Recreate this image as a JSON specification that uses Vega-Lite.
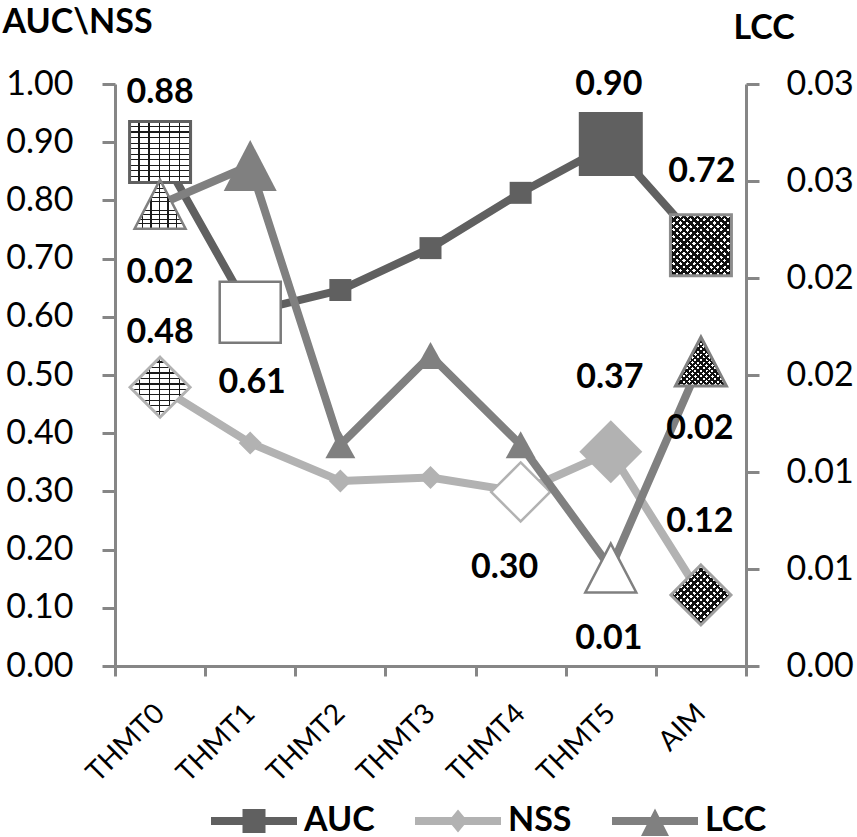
{
  "$schema": "https://vega.github.io/schema/vega-lite/v6.json",
  "width": 631,
  "height": 582,
  "autosize": {"type": "none"},
  "padding": {"left": 115, "top": 84, "right": 111, "bottom": 171},
  "background": "#ffffff",
  "data": {
    "values": [
      {"model": "THMT0", "metric": "AUC", "value": 0.883},
      {"model": "THMT1", "metric": "AUC", "value": 0.608},
      {"model": "THMT2", "metric": "AUC", "value": 0.646},
      {"model": "THMT3", "metric": "AUC", "value": 0.718},
      {"model": "THMT4", "metric": "AUC", "value": 0.813},
      {"model": "THMT5", "metric": "AUC", "value": 0.897},
      {"model": "AIM", "metric": "AUC", "value": 0.723},
      {"model": "THMT0", "metric": "NSS", "value": 0.479},
      {"model": "THMT1", "metric": "NSS", "value": 0.383},
      {"model": "THMT2", "metric": "NSS", "value": 0.318},
      {"model": "THMT3", "metric": "NSS", "value": 0.324},
      {"model": "THMT4", "metric": "NSS", "value": 0.299},
      {"model": "THMT5", "metric": "NSS", "value": 0.368},
      {"model": "AIM", "metric": "NSS", "value": 0.122},
      {"model": "THMT0", "metric": "LCC", "value": 0.0238},
      {"model": "THMT1", "metric": "LCC", "value": 0.0258},
      {"model": "THMT2", "metric": "LCC", "value": 0.0114},
      {"model": "THMT3", "metric": "LCC", "value": 0.016},
      {"model": "THMT4", "metric": "LCC", "value": 0.0114},
      {"model": "THMT5", "metric": "LCC", "value": 0.00505},
      {"model": "AIM", "metric": "LCC", "value": 0.0157}
    ]
  },
  "encoding": {
    "x": {
      "field": "model",
      "type": "nominal",
      "bandPosition": 0.5,
      "scale": {"type": "band", "domain": ["THMT0", "THMT1", "THMT2", "THMT3", "THMT4", "THMT5", "AIM"], "paddingInner": 0, "paddingOuter": 0},
      "axis": {
        "title": null,
        "tickBand": "extent",
        "labelAngle": -45,
        "labelAlign": "right",
        "labelBaseline": "middle",
        "labelFont": "Lato",
        "labelFontSize": 28,
        "labelColor": "#000000",
        "labelPadding": 33,
        "tickSize": 10,
        "tickWidth": 3,
        "tickColor": "#868686",
        "domainColor": "#868686",
        "domainWidth": 3,
        "grid": false
      }
    }
  },
  "layer": [
    {
      "encoding": {
        "y": {
          "field": "value",
          "type": "quantitative",
          "scale": {"domain": [0, 1], "nice": false},
          "axis": {
            "orient": "left",
            "values": [0, 0.1, 0.2, 0.3, 0.4, 0.5, 0.6, 0.7, 0.8, 0.9, 1],
            "format": ".2f",
            "title": "AUC\\NSS",
            "titleAngle": 0,
            "titleAlign": "left",
            "titleBaseline": "alphabetic",
            "titleX": -113,
            "titleY": -52,
            "titleFont": "Lato",
            "titleFontSize": 34,
            "titleFontWeight": "bold",
            "titleColor": "#000000",
            "labelFont": "Lato",
            "labelFontSize": 34,
            "labelColor": "#000000",
            "labelPadding": 29,
            "tickSize": 13,
            "tickWidth": 3,
            "tickColor": "#868686",
            "domainColor": "#868686",
            "domainWidth": 3,
            "grid": false
          }
        }
      },
      "layer": [
        {
          "transform": [{"filter": "datum.metric==='AUC'"}],
          "mark": {"type": "line", "color": "#606060", "strokeWidth": 8, "strokeJoin": "round"}
        },
        {
          "transform": [{"filter": "datum.metric==='AUC' && (datum.model==='THMT2' || datum.model==='THMT3' || datum.model==='THMT4')"}],
          "mark": {"type": "point", "shape": "square", "filled": true, "size": 484, "color": "#606060", "opacity": 1}
        },
        {
          "transform": [{"filter": "datum.metric==='AUC' && datum.model==='THMT1'"}],
          "mark": {"type": "point", "shape": "square", "filled": true, "size": 3721, "fill": "#ffffff", "opacity": 1, "stroke": "#7a7a7a", "strokeWidth": 2.5}
        },
        {
          "transform": [{"filter": "datum.metric==='AUC' && datum.model==='THMT5'"}],
          "mark": {"type": "point", "shape": "square", "filled": true, "size": 4096, "color": "#606060", "opacity": 1}
        },
        {
          "transform": [{"filter": "datum.metric==='NSS'"}],
          "mark": {"type": "line", "color": "#b2b2b2", "strokeWidth": 8, "strokeJoin": "round"}
        },
        {
          "transform": [{"filter": "datum.metric==='NSS' && (datum.model==='THMT1' || datum.model==='THMT2' || datum.model==='THMT3')"}],
          "mark": {"type": "point", "shape": "M0,-1L1,0L0,1L-1,0Z", "filled": true, "size": 529, "color": "#b2b2b2", "opacity": 1}
        },
        {
          "transform": [{"filter": "datum.metric==='NSS' && datum.model==='THMT4'"}],
          "mark": {"type": "point", "shape": "M0,-1L1,0L0,1L-1,0Z", "filled": true, "size": 3481, "fill": "#ffffff", "opacity": 1, "stroke": "#b2b2b2", "strokeWidth": 2.5}
        },
        {
          "transform": [{"filter": "datum.metric==='NSS' && datum.model==='THMT5'"}],
          "mark": {"type": "point", "shape": "M0,-1L1,0L0,1L-1,0Z", "filled": true, "size": 3969, "color": "#b2b2b2", "opacity": 1}
        },
        {
          "transform": [{"filter": "datum.metric!=='LCC' && datum.model==='THMT0'"}],
          "mark": {
            "type": "point", "filled": true, "opacity": 1, "strokeWidth": 0,
            "fill": {
              "gradient": "linear", "x1": 0, "y1": 0, "x2": 0, "y2": 1,
              "stops": [
                {"offset": 0, "color": "#ffffff"}, {"offset": 0.071, "color": "#ffffff"}, {"offset": 0.071, "color": "#1a1a1a"}, {"offset": 0.091, "color": "#1a1a1a"},
                {"offset": 0.091, "color": "#ffffff"}, {"offset": 0.162, "color": "#ffffff"}, {"offset": 0.162, "color": "#1a1a1a"}, {"offset": 0.182, "color": "#1a1a1a"},
                {"offset": 0.182, "color": "#ffffff"}, {"offset": 0.253, "color": "#ffffff"}, {"offset": 0.253, "color": "#1a1a1a"}, {"offset": 0.273, "color": "#1a1a1a"},
                {"offset": 0.273, "color": "#ffffff"}, {"offset": 0.344, "color": "#ffffff"}, {"offset": 0.344, "color": "#1a1a1a"}, {"offset": 0.364, "color": "#1a1a1a"},
                {"offset": 0.364, "color": "#ffffff"}, {"offset": 0.435, "color": "#ffffff"}, {"offset": 0.435, "color": "#1a1a1a"}, {"offset": 0.455, "color": "#1a1a1a"},
                {"offset": 0.455, "color": "#ffffff"}, {"offset": 0.526, "color": "#ffffff"}, {"offset": 0.526, "color": "#1a1a1a"}, {"offset": 0.545, "color": "#1a1a1a"},
                {"offset": 0.545, "color": "#ffffff"}, {"offset": 0.616, "color": "#ffffff"}, {"offset": 0.616, "color": "#1a1a1a"}, {"offset": 0.636, "color": "#1a1a1a"},
                {"offset": 0.636, "color": "#ffffff"}, {"offset": 0.707, "color": "#ffffff"}, {"offset": 0.707, "color": "#1a1a1a"}, {"offset": 0.727, "color": "#1a1a1a"},
                {"offset": 0.727, "color": "#ffffff"}, {"offset": 0.798, "color": "#ffffff"}, {"offset": 0.798, "color": "#1a1a1a"}, {"offset": 0.818, "color": "#1a1a1a"},
                {"offset": 0.818, "color": "#ffffff"}, {"offset": 0.889, "color": "#ffffff"}, {"offset": 0.889, "color": "#1a1a1a"}, {"offset": 0.909, "color": "#1a1a1a"},
                {"offset": 0.909, "color": "#ffffff"}, {"offset": 0.98, "color": "#ffffff"}, {"offset": 0.98, "color": "#1a1a1a"}, {"offset": 1, "color": "#1a1a1a"}
              ]
            }
          },
          "encoding": {
            "shape": {"condition": {"test": "datum.metric==='AUC'", "value": "square"}, "value": "M0,-1L1,0L0,1L-1,0Z"},
            "size": {"condition": {"test": "datum.metric==='AUC'", "value": 3721}, "value": 3600}
          }
        },
        {
          "transform": [{"filter": "datum.metric!=='LCC' && datum.model==='THMT0'"}],
          "mark": {
            "type": "point", "filled": true, "opacity": 1, "strokeWidth": 3,
            "fill": {
              "gradient": "linear", "x1": 0, "y1": 0, "x2": 1, "y2": 0,
              "stops": [
                {"offset": 0, "color": "rgba(0,0,0,0)"}, {"offset": 0.142, "color": "rgba(0,0,0,0)"}, {"offset": 0.142, "color": "#1a1a1a"}, {"offset": 0.167, "color": "#1a1a1a"},
                {"offset": 0.167, "color": "rgba(0,0,0,0)"}, {"offset": 0.308, "color": "rgba(0,0,0,0)"}, {"offset": 0.308, "color": "#1a1a1a"}, {"offset": 0.333, "color": "#1a1a1a"},
                {"offset": 0.333, "color": "rgba(0,0,0,0)"}, {"offset": 0.475, "color": "rgba(0,0,0,0)"}, {"offset": 0.475, "color": "#1a1a1a"}, {"offset": 0.5, "color": "#1a1a1a"},
                {"offset": 0.5, "color": "rgba(0,0,0,0)"}, {"offset": 0.642, "color": "rgba(0,0,0,0)"}, {"offset": 0.642, "color": "#1a1a1a"}, {"offset": 0.667, "color": "#1a1a1a"},
                {"offset": 0.667, "color": "rgba(0,0,0,0)"}, {"offset": 0.808, "color": "rgba(0,0,0,0)"}, {"offset": 0.808, "color": "#1a1a1a"}, {"offset": 0.833, "color": "#1a1a1a"},
                {"offset": 0.833, "color": "rgba(0,0,0,0)"}, {"offset": 0.975, "color": "rgba(0,0,0,0)"}, {"offset": 0.975, "color": "#1a1a1a"}, {"offset": 1, "color": "#1a1a1a"}
              ]
            }
          },
          "encoding": {
            "shape": {"condition": {"test": "datum.metric==='AUC'", "value": "square"}, "value": "M0,-1L1,0L0,1L-1,0Z"},
            "size": {"condition": {"test": "datum.metric==='AUC'", "value": 3721}, "value": 3600},
            "stroke": {"condition": {"test": "datum.metric==='AUC'", "value": "#606060"}, "value": "#b2b2b2"}
          }
        },
        {
          "transform": [{"filter": "datum.metric!=='LCC' && datum.model==='AIM'"}],
          "mark": {
            "type": "point", "filled": true, "opacity": 1, "strokeWidth": 0,
            "fill": {
              "gradient": "linear", "x1": 0, "y1": 0, "x2": 1, "y2": 1,
              "stops": [
                {"offset": 0, "color": "#111111"}, {"offset": 0.027, "color": "#111111"}, {"offset": 0.027, "color": "#ffffff"}, {"offset": 0.056, "color": "#ffffff"},
                {"offset": 0.056, "color": "#111111"}, {"offset": 0.082, "color": "#111111"}, {"offset": 0.082, "color": "#ffffff"}, {"offset": 0.111, "color": "#ffffff"},
                {"offset": 0.111, "color": "#111111"}, {"offset": 0.138, "color": "#111111"}, {"offset": 0.138, "color": "#ffffff"}, {"offset": 0.167, "color": "#ffffff"},
                {"offset": 0.167, "color": "#111111"}, {"offset": 0.193, "color": "#111111"}, {"offset": 0.193, "color": "#ffffff"}, {"offset": 0.222, "color": "#ffffff"},
                {"offset": 0.222, "color": "#111111"}, {"offset": 0.249, "color": "#111111"}, {"offset": 0.249, "color": "#ffffff"}, {"offset": 0.278, "color": "#ffffff"},
                {"offset": 0.278, "color": "#111111"}, {"offset": 0.304, "color": "#111111"}, {"offset": 0.304, "color": "#ffffff"}, {"offset": 0.333, "color": "#ffffff"},
                {"offset": 0.333, "color": "#111111"}, {"offset": 0.36, "color": "#111111"}, {"offset": 0.36, "color": "#ffffff"}, {"offset": 0.389, "color": "#ffffff"},
                {"offset": 0.389, "color": "#111111"}, {"offset": 0.416, "color": "#111111"}, {"offset": 0.416, "color": "#ffffff"}, {"offset": 0.444, "color": "#ffffff"},
                {"offset": 0.444, "color": "#111111"}, {"offset": 0.471, "color": "#111111"}, {"offset": 0.471, "color": "#ffffff"}, {"offset": 0.5, "color": "#ffffff"},
                {"offset": 0.5, "color": "#111111"}, {"offset": 0.527, "color": "#111111"}, {"offset": 0.527, "color": "#ffffff"}, {"offset": 0.556, "color": "#ffffff"},
                {"offset": 0.556, "color": "#111111"}, {"offset": 0.582, "color": "#111111"}, {"offset": 0.582, "color": "#ffffff"}, {"offset": 0.611, "color": "#ffffff"},
                {"offset": 0.611, "color": "#111111"}, {"offset": 0.638, "color": "#111111"}, {"offset": 0.638, "color": "#ffffff"}, {"offset": 0.667, "color": "#ffffff"},
                {"offset": 0.667, "color": "#111111"}, {"offset": 0.693, "color": "#111111"}, {"offset": 0.693, "color": "#ffffff"}, {"offset": 0.722, "color": "#ffffff"},
                {"offset": 0.722, "color": "#111111"}, {"offset": 0.749, "color": "#111111"}, {"offset": 0.749, "color": "#ffffff"}, {"offset": 0.778, "color": "#ffffff"},
                {"offset": 0.778, "color": "#111111"}, {"offset": 0.804, "color": "#111111"}, {"offset": 0.804, "color": "#ffffff"}, {"offset": 0.833, "color": "#ffffff"},
                {"offset": 0.833, "color": "#111111"}, {"offset": 0.86, "color": "#111111"}, {"offset": 0.86, "color": "#ffffff"}, {"offset": 0.889, "color": "#ffffff"},
                {"offset": 0.889, "color": "#111111"}, {"offset": 0.916, "color": "#111111"}, {"offset": 0.916, "color": "#ffffff"}, {"offset": 0.944, "color": "#ffffff"},
                {"offset": 0.944, "color": "#111111"}, {"offset": 0.971, "color": "#111111"}, {"offset": 0.971, "color": "#ffffff"}, {"offset": 1, "color": "#ffffff"}
              ]
            }
          },
          "encoding": {
            "shape": {"condition": {"test": "datum.metric==='AUC'", "value": "square"}, "value": "M0,-1L1,0L0,1L-1,0Z"},
            "size": {"condition": {"test": "datum.metric==='AUC'", "value": 3721}, "value": 3600}
          }
        },
        {
          "transform": [{"filter": "datum.metric!=='LCC' && datum.model==='AIM'"}],
          "mark": {
            "type": "point", "filled": true, "opacity": 1, "strokeWidth": 3,
            "fill": {
              "gradient": "linear", "x1": 1, "y1": 0, "x2": 0, "y2": 1,
              "stops": [
                {"offset": 0, "color": "#111111"}, {"offset": 0.027, "color": "#111111"}, {"offset": 0.027, "color": "rgba(0,0,0,0)"}, {"offset": 0.056, "color": "rgba(0,0,0,0)"},
                {"offset": 0.056, "color": "#111111"}, {"offset": 0.082, "color": "#111111"}, {"offset": 0.082, "color": "rgba(0,0,0,0)"}, {"offset": 0.111, "color": "rgba(0,0,0,0)"},
                {"offset": 0.111, "color": "#111111"}, {"offset": 0.138, "color": "#111111"}, {"offset": 0.138, "color": "rgba(0,0,0,0)"}, {"offset": 0.167, "color": "rgba(0,0,0,0)"},
                {"offset": 0.167, "color": "#111111"}, {"offset": 0.193, "color": "#111111"}, {"offset": 0.193, "color": "rgba(0,0,0,0)"}, {"offset": 0.222, "color": "rgba(0,0,0,0)"},
                {"offset": 0.222, "color": "#111111"}, {"offset": 0.249, "color": "#111111"}, {"offset": 0.249, "color": "rgba(0,0,0,0)"}, {"offset": 0.278, "color": "rgba(0,0,0,0)"},
                {"offset": 0.278, "color": "#111111"}, {"offset": 0.304, "color": "#111111"}, {"offset": 0.304, "color": "rgba(0,0,0,0)"}, {"offset": 0.333, "color": "rgba(0,0,0,0)"},
                {"offset": 0.333, "color": "#111111"}, {"offset": 0.36, "color": "#111111"}, {"offset": 0.36, "color": "rgba(0,0,0,0)"}, {"offset": 0.389, "color": "rgba(0,0,0,0)"},
                {"offset": 0.389, "color": "#111111"}, {"offset": 0.416, "color": "#111111"}, {"offset": 0.416, "color": "rgba(0,0,0,0)"}, {"offset": 0.444, "color": "rgba(0,0,0,0)"},
                {"offset": 0.444, "color": "#111111"}, {"offset": 0.471, "color": "#111111"}, {"offset": 0.471, "color": "rgba(0,0,0,0)"}, {"offset": 0.5, "color": "rgba(0,0,0,0)"},
                {"offset": 0.5, "color": "#111111"}, {"offset": 0.527, "color": "#111111"}, {"offset": 0.527, "color": "rgba(0,0,0,0)"}, {"offset": 0.556, "color": "rgba(0,0,0,0)"},
                {"offset": 0.556, "color": "#111111"}, {"offset": 0.582, "color": "#111111"}, {"offset": 0.582, "color": "rgba(0,0,0,0)"}, {"offset": 0.611, "color": "rgba(0,0,0,0)"},
                {"offset": 0.611, "color": "#111111"}, {"offset": 0.638, "color": "#111111"}, {"offset": 0.638, "color": "rgba(0,0,0,0)"}, {"offset": 0.667, "color": "rgba(0,0,0,0)"},
                {"offset": 0.667, "color": "#111111"}, {"offset": 0.693, "color": "#111111"}, {"offset": 0.693, "color": "rgba(0,0,0,0)"}, {"offset": 0.722, "color": "rgba(0,0,0,0)"},
                {"offset": 0.722, "color": "#111111"}, {"offset": 0.749, "color": "#111111"}, {"offset": 0.749, "color": "rgba(0,0,0,0)"}, {"offset": 0.778, "color": "rgba(0,0,0,0)"},
                {"offset": 0.778, "color": "#111111"}, {"offset": 0.804, "color": "#111111"}, {"offset": 0.804, "color": "rgba(0,0,0,0)"}, {"offset": 0.833, "color": "rgba(0,0,0,0)"},
                {"offset": 0.833, "color": "#111111"}, {"offset": 0.86, "color": "#111111"}, {"offset": 0.86, "color": "rgba(0,0,0,0)"}, {"offset": 0.889, "color": "rgba(0,0,0,0)"},
                {"offset": 0.889, "color": "#111111"}, {"offset": 0.916, "color": "#111111"}, {"offset": 0.916, "color": "rgba(0,0,0,0)"}, {"offset": 0.944, "color": "rgba(0,0,0,0)"},
                {"offset": 0.944, "color": "#111111"}, {"offset": 0.971, "color": "#111111"}, {"offset": 0.971, "color": "rgba(0,0,0,0)"}, {"offset": 1, "color": "rgba(0,0,0,0)"}
              ]
            }
          },
          "encoding": {
            "shape": {"condition": {"test": "datum.metric==='AUC'", "value": "square"}, "value": "M0,-1L1,0L0,1L-1,0Z"},
            "size": {"condition": {"test": "datum.metric==='AUC'", "value": 3721}, "value": 3600},
            "stroke": {"condition": {"test": "datum.metric==='AUC'", "value": "#8c8c8c"}, "value": "#a0a0a0"}
          }
        },
        {
          "mark": {"type": "point", "filled": true, "size": 0, "opacity": 1},
          "encoding": {
            "color": {
              "field": "metric",
              "type": "nominal",
              "scale": {"domain": ["AUC", "NSS", "LCC"], "range": ["#606060", "#b2b2b2", "#808080"]},
              "legend": {"title": null, "orient": "none", "legendX": 122, "legendY": 720, "direction": "horizontal", "padding": 0, "symbolSize": 400, "symbolStrokeWidth": 0, "symbolOpacity": 1, "labelFont": "Lato", "labelFontSize": 34, "labelFontWeight": "bold", "labelColor": "#000000", "labelOffset": 33, "columnPadding": 40}
            },
            "shape": {
              "field": "metric",
              "type": "nominal",
              "scale": {"domain": ["AUC", "NSS", "LCC"], "range": ["M-4.3,-0.4H4.3V0.4H-4.3Z M-1.15,-1.2H1.15V1.2H-1.15Z", "M-4.3,-0.4H4.3V0.4H-4.3Z M0,-1.15L0.95,0L0,1.15L-0.95,0Z", "M-4.3,-0.4H4.3V0.4H-4.3Z M0,-1.25L1.4,1.5L-1.4,1.5Z"]},
              "legend": {"title": null, "orient": "none", "legendX": 122, "legendY": 720, "direction": "horizontal", "padding": 0, "symbolSize": 400, "symbolStrokeWidth": 0, "symbolOpacity": 1, "labelFont": "Lato", "labelFontSize": 34, "labelFontWeight": "bold", "labelColor": "#000000", "labelOffset": 33, "columnPadding": 40}
            }
          }
        },
        {
          "transform": [{"filter": "datum.metric==='AUC' && datum.model==='THMT0'"}],
          "mark": {"type": "text", "font": "Lato", "fontSize": 34, "fontWeight": "bold", "color": "#000000", "baseline": "middle", "dy": -59},
          "encoding": {"text": {"field": "value", "format": ".2f"}}
        },
        {
          "transform": [{"filter": "datum.metric==='AUC' && datum.model==='THMT1'"}],
          "mark": {"type": "text", "font": "Lato", "fontSize": 34, "fontWeight": "bold", "color": "#000000", "baseline": "middle", "dx": 2, "dy": 71},
          "encoding": {"text": {"field": "value", "format": ".2f"}}
        },
        {
          "transform": [{"filter": "datum.metric==='AUC' && datum.model==='THMT5'"}],
          "mark": {"type": "text", "font": "Lato", "fontSize": 34, "fontWeight": "bold", "color": "#000000", "baseline": "middle", "dx": -2, "dy": -59},
          "encoding": {"text": {"field": "value", "format": ".2f"}}
        },
        {
          "transform": [{"filter": "datum.metric==='AUC' && datum.model==='AIM'"}],
          "mark": {"type": "text", "font": "Lato", "fontSize": 34, "fontWeight": "bold", "color": "#000000", "baseline": "middle", "dx": 1, "dy": -73},
          "encoding": {"text": {"field": "value", "format": ".2f"}}
        },
        {
          "transform": [{"filter": "datum.metric==='NSS' && datum.model==='THMT0'"}],
          "mark": {"type": "text", "font": "Lato", "fontSize": 34, "fontWeight": "bold", "color": "#000000", "baseline": "middle", "dy": -54},
          "encoding": {"text": {"field": "value", "format": ".2f"}}
        },
        {
          "transform": [{"filter": "datum.metric==='NSS' && datum.model==='THMT4'"}],
          "mark": {"type": "text", "font": "Lato", "fontSize": 34, "fontWeight": "bold", "color": "#000000", "baseline": "middle", "dx": -16, "dy": 76},
          "encoding": {"text": {"field": "value", "format": ".2f"}}
        },
        {
          "transform": [{"filter": "datum.metric==='NSS' && datum.model==='THMT5'"}],
          "mark": {"type": "text", "font": "Lato", "fontSize": 34, "fontWeight": "bold", "color": "#000000", "baseline": "middle", "dx": -1, "dy": -74},
          "encoding": {"text": {"field": "value", "format": ".2f"}}
        },
        {
          "transform": [{"filter": "datum.metric==='NSS' && datum.model==='AIM'"}],
          "mark": {"type": "text", "font": "Lato", "fontSize": 34, "fontWeight": "bold", "color": "#000000", "baseline": "middle", "dx": -1, "dy": -73},
          "encoding": {"text": {"field": "value", "format": ".2f"}}
        }
      ]
    },
    {
      "encoding": {
        "y": {
          "field": "value",
          "type": "quantitative",
          "scale": {"domain": [0, 0.03], "nice": false},
          "axis": {
            "orient": "right",
            "values": [0, 0.005, 0.01, 0.015, 0.02, 0.025, 0.03],
            "labelExpr": "format(datum.value + 0.0001, '.2f')",
            "title": "LCC",
            "titleAngle": 0,
            "titleAlign": "left",
            "titleBaseline": "alphabetic",
            "titleX": -13,
            "titleY": -46,
            "titleFont": "Lato",
            "titleFontSize": 34,
            "titleFontWeight": "bold",
            "titleColor": "#000000",
            "labelFont": "Lato",
            "labelFontSize": 34,
            "labelColor": "#000000",
            "labelPadding": 27,
            "tickSize": 13,
            "tickWidth": 3,
            "tickColor": "#868686",
            "domainColor": "#868686",
            "domainWidth": 3,
            "grid": false
          }
        }
      },
      "layer": [
        {
          "transform": [{"filter": "datum.metric==='LCC'"}],
          "mark": {"type": "line", "color": "#808080", "strokeWidth": 8, "strokeJoin": "round"}
        },
        {
          "transform": [{"filter": "datum.metric==='LCC' && (datum.model==='THMT2' || datum.model==='THMT3' || datum.model==='THMT4')"}],
          "mark": {"type": "point", "shape": "M0,-0.9L1,0.9L-1,0.9Z", "filled": true, "size": 900, "color": "#808080", "opacity": 1}
        },
        {
          "transform": [{"filter": "datum.metric==='LCC' && datum.model==='THMT0'"}],
          "mark": {
            "type": "point", "shape": "M0,-0.96L1,0.96L-1,0.96Z", "filled": true, "size": 2601, "opacity": 1, "strokeWidth": 0,
            "fill": {
              "gradient": "linear", "x1": 0, "y1": 0, "x2": 0, "y2": 1,
              "stops": [
                {"offset": 0, "color": "#ffffff"}, {"offset": 0.071, "color": "#ffffff"}, {"offset": 0.071, "color": "#1a1a1a"}, {"offset": 0.091, "color": "#1a1a1a"},
                {"offset": 0.091, "color": "#ffffff"}, {"offset": 0.162, "color": "#ffffff"}, {"offset": 0.162, "color": "#1a1a1a"}, {"offset": 0.182, "color": "#1a1a1a"},
                {"offset": 0.182, "color": "#ffffff"}, {"offset": 0.253, "color": "#ffffff"}, {"offset": 0.253, "color": "#1a1a1a"}, {"offset": 0.273, "color": "#1a1a1a"},
                {"offset": 0.273, "color": "#ffffff"}, {"offset": 0.344, "color": "#ffffff"}, {"offset": 0.344, "color": "#1a1a1a"}, {"offset": 0.364, "color": "#1a1a1a"},
                {"offset": 0.364, "color": "#ffffff"}, {"offset": 0.435, "color": "#ffffff"}, {"offset": 0.435, "color": "#1a1a1a"}, {"offset": 0.455, "color": "#1a1a1a"},
                {"offset": 0.455, "color": "#ffffff"}, {"offset": 0.526, "color": "#ffffff"}, {"offset": 0.526, "color": "#1a1a1a"}, {"offset": 0.545, "color": "#1a1a1a"},
                {"offset": 0.545, "color": "#ffffff"}, {"offset": 0.616, "color": "#ffffff"}, {"offset": 0.616, "color": "#1a1a1a"}, {"offset": 0.636, "color": "#1a1a1a"},
                {"offset": 0.636, "color": "#ffffff"}, {"offset": 0.707, "color": "#ffffff"}, {"offset": 0.707, "color": "#1a1a1a"}, {"offset": 0.727, "color": "#1a1a1a"},
                {"offset": 0.727, "color": "#ffffff"}, {"offset": 0.798, "color": "#ffffff"}, {"offset": 0.798, "color": "#1a1a1a"}, {"offset": 0.818, "color": "#1a1a1a"},
                {"offset": 0.818, "color": "#ffffff"}, {"offset": 0.889, "color": "#ffffff"}, {"offset": 0.889, "color": "#1a1a1a"}, {"offset": 0.909, "color": "#1a1a1a"},
                {"offset": 0.909, "color": "#ffffff"}, {"offset": 0.98, "color": "#ffffff"}, {"offset": 0.98, "color": "#1a1a1a"}, {"offset": 1, "color": "#1a1a1a"}
              ]
            }
          }
        },
        {
          "transform": [{"filter": "datum.metric==='LCC' && datum.model==='THMT0'"}],
          "mark": {
            "type": "point", "shape": "M0,-0.96L1,0.96L-1,0.96Z", "filled": true, "size": 2601, "opacity": 1, "stroke": "#808080", "strokeWidth": 2.5,
            "fill": {
              "gradient": "linear", "x1": 0, "y1": 0, "x2": 1, "y2": 0,
              "stops": [
                {"offset": 0, "color": "rgba(0,0,0,0)"}, {"offset": 0.142, "color": "rgba(0,0,0,0)"}, {"offset": 0.142, "color": "#1a1a1a"}, {"offset": 0.167, "color": "#1a1a1a"},
                {"offset": 0.167, "color": "rgba(0,0,0,0)"}, {"offset": 0.308, "color": "rgba(0,0,0,0)"}, {"offset": 0.308, "color": "#1a1a1a"}, {"offset": 0.333, "color": "#1a1a1a"},
                {"offset": 0.333, "color": "rgba(0,0,0,0)"}, {"offset": 0.475, "color": "rgba(0,0,0,0)"}, {"offset": 0.475, "color": "#1a1a1a"}, {"offset": 0.5, "color": "#1a1a1a"},
                {"offset": 0.5, "color": "rgba(0,0,0,0)"}, {"offset": 0.642, "color": "rgba(0,0,0,0)"}, {"offset": 0.642, "color": "#1a1a1a"}, {"offset": 0.667, "color": "#1a1a1a"},
                {"offset": 0.667, "color": "rgba(0,0,0,0)"}, {"offset": 0.808, "color": "rgba(0,0,0,0)"}, {"offset": 0.808, "color": "#1a1a1a"}, {"offset": 0.833, "color": "#1a1a1a"},
                {"offset": 0.833, "color": "rgba(0,0,0,0)"}, {"offset": 0.975, "color": "rgba(0,0,0,0)"}, {"offset": 0.975, "color": "#1a1a1a"}, {"offset": 1, "color": "#1a1a1a"}
              ]
            }
          }
        },
        {
          "transform": [{"filter": "datum.metric==='LCC' && datum.model==='THMT1'"}],
          "mark": {"type": "point", "shape": "M0,-0.96L1,0.96L-1,0.96Z", "filled": true, "size": 2809, "color": "#808080", "opacity": 1}
        },
        {
          "transform": [{"filter": "datum.metric==='LCC' && datum.model==='THMT5'"}],
          "mark": {"type": "point", "shape": "M0,-0.96L1,0.96L-1,0.96Z", "filled": true, "size": 2601, "fill": "#ffffff", "opacity": 1, "stroke": "#808080", "strokeWidth": 2.5}
        },
        {
          "transform": [{"filter": "datum.metric==='LCC' && datum.model==='AIM'"}],
          "mark": {
            "type": "point", "shape": "M0,-0.96L1,0.96L-1,0.96Z", "filled": true, "size": 2601, "opacity": 1, "strokeWidth": 0,
            "fill": {
              "gradient": "linear", "x1": 0, "y1": 0, "x2": 1, "y2": 1,
              "stops": [
                {"offset": 0, "color": "#111111"}, {"offset": 0.027, "color": "#111111"}, {"offset": 0.027, "color": "#ffffff"}, {"offset": 0.056, "color": "#ffffff"},
                {"offset": 0.056, "color": "#111111"}, {"offset": 0.082, "color": "#111111"}, {"offset": 0.082, "color": "#ffffff"}, {"offset": 0.111, "color": "#ffffff"},
                {"offset": 0.111, "color": "#111111"}, {"offset": 0.138, "color": "#111111"}, {"offset": 0.138, "color": "#ffffff"}, {"offset": 0.167, "color": "#ffffff"},
                {"offset": 0.167, "color": "#111111"}, {"offset": 0.193, "color": "#111111"}, {"offset": 0.193, "color": "#ffffff"}, {"offset": 0.222, "color": "#ffffff"},
                {"offset": 0.222, "color": "#111111"}, {"offset": 0.249, "color": "#111111"}, {"offset": 0.249, "color": "#ffffff"}, {"offset": 0.278, "color": "#ffffff"},
                {"offset": 0.278, "color": "#111111"}, {"offset": 0.304, "color": "#111111"}, {"offset": 0.304, "color": "#ffffff"}, {"offset": 0.333, "color": "#ffffff"},
                {"offset": 0.333, "color": "#111111"}, {"offset": 0.36, "color": "#111111"}, {"offset": 0.36, "color": "#ffffff"}, {"offset": 0.389, "color": "#ffffff"},
                {"offset": 0.389, "color": "#111111"}, {"offset": 0.416, "color": "#111111"}, {"offset": 0.416, "color": "#ffffff"}, {"offset": 0.444, "color": "#ffffff"},
                {"offset": 0.444, "color": "#111111"}, {"offset": 0.471, "color": "#111111"}, {"offset": 0.471, "color": "#ffffff"}, {"offset": 0.5, "color": "#ffffff"},
                {"offset": 0.5, "color": "#111111"}, {"offset": 0.527, "color": "#111111"}, {"offset": 0.527, "color": "#ffffff"}, {"offset": 0.556, "color": "#ffffff"},
                {"offset": 0.556, "color": "#111111"}, {"offset": 0.582, "color": "#111111"}, {"offset": 0.582, "color": "#ffffff"}, {"offset": 0.611, "color": "#ffffff"},
                {"offset": 0.611, "color": "#111111"}, {"offset": 0.638, "color": "#111111"}, {"offset": 0.638, "color": "#ffffff"}, {"offset": 0.667, "color": "#ffffff"},
                {"offset": 0.667, "color": "#111111"}, {"offset": 0.693, "color": "#111111"}, {"offset": 0.693, "color": "#ffffff"}, {"offset": 0.722, "color": "#ffffff"},
                {"offset": 0.722, "color": "#111111"}, {"offset": 0.749, "color": "#111111"}, {"offset": 0.749, "color": "#ffffff"}, {"offset": 0.778, "color": "#ffffff"},
                {"offset": 0.778, "color": "#111111"}, {"offset": 0.804, "color": "#111111"}, {"offset": 0.804, "color": "#ffffff"}, {"offset": 0.833, "color": "#ffffff"},
                {"offset": 0.833, "color": "#111111"}, {"offset": 0.86, "color": "#111111"}, {"offset": 0.86, "color": "#ffffff"}, {"offset": 0.889, "color": "#ffffff"},
                {"offset": 0.889, "color": "#111111"}, {"offset": 0.916, "color": "#111111"}, {"offset": 0.916, "color": "#ffffff"}, {"offset": 0.944, "color": "#ffffff"},
                {"offset": 0.944, "color": "#111111"}, {"offset": 0.971, "color": "#111111"}, {"offset": 0.971, "color": "#ffffff"}, {"offset": 1, "color": "#ffffff"}
              ]
            }
          }
        },
        {
          "transform": [{"filter": "datum.metric==='LCC' && datum.model==='AIM'"}],
          "mark": {
            "type": "point", "shape": "M0,-0.96L1,0.96L-1,0.96Z", "filled": true, "size": 2601, "opacity": 1, "stroke": "#808080", "strokeWidth": 3,
            "fill": {
              "gradient": "linear", "x1": 1, "y1": 0, "x2": 0, "y2": 1,
              "stops": [
                {"offset": 0, "color": "#111111"}, {"offset": 0.027, "color": "#111111"}, {"offset": 0.027, "color": "rgba(0,0,0,0)"}, {"offset": 0.056, "color": "rgba(0,0,0,0)"},
                {"offset": 0.056, "color": "#111111"}, {"offset": 0.082, "color": "#111111"}, {"offset": 0.082, "color": "rgba(0,0,0,0)"}, {"offset": 0.111, "color": "rgba(0,0,0,0)"},
                {"offset": 0.111, "color": "#111111"}, {"offset": 0.138, "color": "#111111"}, {"offset": 0.138, "color": "rgba(0,0,0,0)"}, {"offset": 0.167, "color": "rgba(0,0,0,0)"},
                {"offset": 0.167, "color": "#111111"}, {"offset": 0.193, "color": "#111111"}, {"offset": 0.193, "color": "rgba(0,0,0,0)"}, {"offset": 0.222, "color": "rgba(0,0,0,0)"},
                {"offset": 0.222, "color": "#111111"}, {"offset": 0.249, "color": "#111111"}, {"offset": 0.249, "color": "rgba(0,0,0,0)"}, {"offset": 0.278, "color": "rgba(0,0,0,0)"},
                {"offset": 0.278, "color": "#111111"}, {"offset": 0.304, "color": "#111111"}, {"offset": 0.304, "color": "rgba(0,0,0,0)"}, {"offset": 0.333, "color": "rgba(0,0,0,0)"},
                {"offset": 0.333, "color": "#111111"}, {"offset": 0.36, "color": "#111111"}, {"offset": 0.36, "color": "rgba(0,0,0,0)"}, {"offset": 0.389, "color": "rgba(0,0,0,0)"},
                {"offset": 0.389, "color": "#111111"}, {"offset": 0.416, "color": "#111111"}, {"offset": 0.416, "color": "rgba(0,0,0,0)"}, {"offset": 0.444, "color": "rgba(0,0,0,0)"},
                {"offset": 0.444, "color": "#111111"}, {"offset": 0.471, "color": "#111111"}, {"offset": 0.471, "color": "rgba(0,0,0,0)"}, {"offset": 0.5, "color": "rgba(0,0,0,0)"},
                {"offset": 0.5, "color": "#111111"}, {"offset": 0.527, "color": "#111111"}, {"offset": 0.527, "color": "rgba(0,0,0,0)"}, {"offset": 0.556, "color": "rgba(0,0,0,0)"},
                {"offset": 0.556, "color": "#111111"}, {"offset": 0.582, "color": "#111111"}, {"offset": 0.582, "color": "rgba(0,0,0,0)"}, {"offset": 0.611, "color": "rgba(0,0,0,0)"},
                {"offset": 0.611, "color": "#111111"}, {"offset": 0.638, "color": "#111111"}, {"offset": 0.638, "color": "rgba(0,0,0,0)"}, {"offset": 0.667, "color": "rgba(0,0,0,0)"},
                {"offset": 0.667, "color": "#111111"}, {"offset": 0.693, "color": "#111111"}, {"offset": 0.693, "color": "rgba(0,0,0,0)"}, {"offset": 0.722, "color": "rgba(0,0,0,0)"},
                {"offset": 0.722, "color": "#111111"}, {"offset": 0.749, "color": "#111111"}, {"offset": 0.749, "color": "rgba(0,0,0,0)"}, {"offset": 0.778, "color": "rgba(0,0,0,0)"},
                {"offset": 0.778, "color": "#111111"}, {"offset": 0.804, "color": "#111111"}, {"offset": 0.804, "color": "rgba(0,0,0,0)"}, {"offset": 0.833, "color": "rgba(0,0,0,0)"},
                {"offset": 0.833, "color": "#111111"}, {"offset": 0.86, "color": "#111111"}, {"offset": 0.86, "color": "rgba(0,0,0,0)"}, {"offset": 0.889, "color": "rgba(0,0,0,0)"},
                {"offset": 0.889, "color": "#111111"}, {"offset": 0.916, "color": "#111111"}, {"offset": 0.916, "color": "rgba(0,0,0,0)"}, {"offset": 0.944, "color": "rgba(0,0,0,0)"},
                {"offset": 0.944, "color": "#111111"}, {"offset": 0.971, "color": "#111111"}, {"offset": 0.971, "color": "rgba(0,0,0,0)"}, {"offset": 1, "color": "rgba(0,0,0,0)"}
              ]
            }
          }
        },
        {
          "transform": [{"filter": "datum.metric==='LCC' && datum.model==='THMT0'"}],
          "mark": {"type": "text", "font": "Lato", "fontSize": 34, "fontWeight": "bold", "color": "#000000", "baseline": "middle", "dy": 69},
          "encoding": {"text": {"field": "value", "format": ".2f"}}
        },
        {
          "transform": [{"filter": "datum.metric==='LCC' && datum.model==='THMT5'"}],
          "mark": {"type": "text", "font": "Lato", "fontSize": 34, "fontWeight": "bold", "color": "#000000", "baseline": "middle", "dx": -2, "dy": 71},
          "encoding": {"text": {"field": "value", "format": ".2f"}}
        },
        {
          "transform": [{"filter": "datum.metric==='LCC' && datum.model==='AIM'"}],
          "mark": {"type": "text", "font": "Lato", "fontSize": 34, "fontWeight": "bold", "color": "#000000", "baseline": "middle", "dx": -1, "dy": 68},
          "encoding": {"text": {"field": "value", "format": ".2f"}}
        }
      ]
    }
  ],
  "resolve": {"scale": {"y": "independent"}},
  "config": {"view": {"stroke": null}}
}
